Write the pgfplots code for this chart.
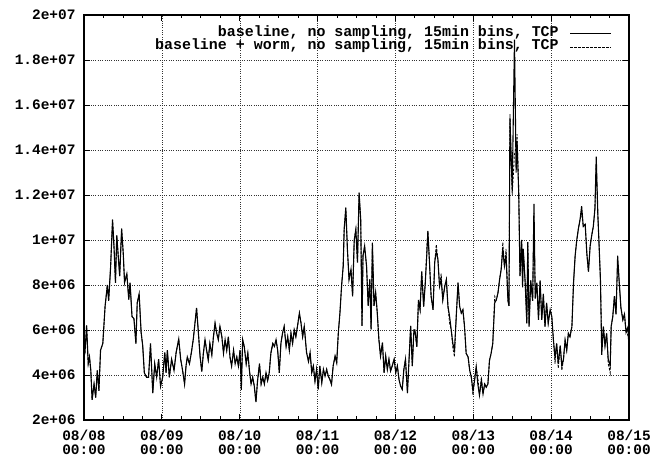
\documentclass[border=0pt]{standalone}
\usepackage{fontspec}
\setmonofont{Liberation Mono}
\usepackage{pgfplots}
\pgfplotsset{compat=1.18}
\usepackage{pgfplotstable}

% TCP volume per 15min bin (millions), hour offset from 08/08 00:00
\pgfplotstableread{
h base worm
0.0 4.8 4.8
0.3 5.0 5.0
0.8 6.2 6.2
1.3 4.5 4.5
1.7 4.8 4.8
2.1 4.2 4.2
2.5 2.9 2.9
3.1 3.6 3.6
3.6 3.0 3.0
4.1 4.2 4.2
4.6 3.3 3.3
5.1 5.1 5.1
5.8 5.4 5.4
6.5 7.05 7.05
7.2 8.0 8.0
7.6 7.3 7.3
8.2 8.8 8.8
8.8 10.9 10.9
9.25 9.7 9.7
9.7 8.1 8.1
10.1 10.2 10.2
10.5 9.4 9.4
11.0 8.4 8.4
11.6 10.5 10.5
12.1 9.4 9.4
12.5 8.1 8.1
13.2 8.5 8.5
13.8 7.35 7.35
14.2 8.1 8.1
14.8 6.6 6.6
15.4 6.5 6.5
16.0 5.4 5.4
16.4 7.2 7.2
17.0 7.6 7.6
17.6 5.9 5.9
18.1 5.3 5.3
18.6 4.1 4.1
19.3 3.9 3.9
19.9 3.9 3.9
20.5 5.4 5.4
21.2 3.2 3.2
21.8 4.5 4.5
22.4 3.9 3.9
23.0 4.7 4.7
23.6 3.5 3.5
24.25 3.9 3.9
24.9 5.0 5.0
25.3 4.1 4.1
25.7 5.1 5.1
26.3 3.9 3.9
27.0 4.7 4.7
27.75 4.2 4.2
28.4 5.0 5.0
29.2 5.6 5.6
29.8 4.7 4.7
30.4 4.2 4.2
31.0 3.6 3.6
31.45 4.4 4.4
31.85 4.8 4.8
32.5 4.5 4.5
33.1 5.0 5.0
33.7 5.6 5.6
34.2 6.3 6.3
34.7 6.98 6.98
35.2 6.0 6.0
35.8 4.8 4.8
36.3 4.15 4.15
36.8 4.97 4.97
37.3 5.57 5.57
37.8 5.1 5.1
38.3 4.67 4.67
38.8 5.4 5.4
39.4 4.9 4.9
39.9 5.7 5.7
40.4 6.3 6.3
40.9 5.86 5.86
41.4 5.57 5.57
41.9 6.16 6.16
42.5 5.7 5.7
43.0 4.97 4.97
43.5 5.57 5.57
44.0 5.1 5.1
44.5 5.7 5.7
45.0 4.8 4.8
45.5 4.4 4.4
46.1 5.1 5.1
46.6 4.5 4.5
47.1 4.8 4.8
47.6 4.4 4.4
48.1 5.1 5.1
48.5 3.34 3.34
48.9 5.57 5.57
49.4 5.27 5.27
50.0 4.5 4.5
50.5 4.97 4.97
51.0 4.2 4.2
51.5 3.6 3.6
52.0 3.9 3.9
52.5 3.5 3.5
53.0 2.8 2.8
53.5 3.75 3.75
54.1 4.5 4.5
54.6 3.6 3.6
55.1 3.9 3.9
55.6 3.6 3.6
56.1 4.1 4.1
56.6 3.75 3.75
57.1 4.1 4.1
57.6 4.97 4.97
58.2 5.4 5.4
58.7 5.27 5.27
59.2 5.57 5.57
59.7 5.1 5.1
60.2 4.1 4.1
60.7 5.4 5.4
61.2 5.86 5.86
61.7 6.16 6.16
62.3 5.27 5.27
62.8 5.7 5.7
63.3 5.1 5.1
63.8 5.86 5.86
64.3 5.4 5.4
64.8 6.0 6.0
65.3 5.7 5.7
65.8 6.16 6.16
66.4 6.75 6.75
66.9 6.3 6.3
67.4 5.7 5.7
67.9 6.16 6.16
68.6 5.0 5.0
69.2 4.6 4.6
69.7 5.0 5.0
70.2 4.1 4.1
70.7 4.4 4.4
71.2 3.73 3.73
71.7 4.25 4.25
72.2 3.36 3.36
72.7 4.4 4.4
73.3 3.66 3.66
73.8 4.25 4.25
74.3 3.95 3.95
74.8 4.25 4.25
75.3 3.95 3.95
75.8 3.8 3.8
76.3 3.58 3.58
76.8 4.4 4.4
77.4 4.84 4.84
77.9 4.55 4.55
78.4 5.88 5.88
78.9 6.77 6.77
79.4 7.96 7.96
79.9 8.84 8.84
80.2 10.47 10.47
80.7 11.44 11.44
81.2 9.58 9.58
81.7 8.25 8.25
82.3 8.7 8.7
82.8 7.5 7.5
83.3 10.0 10.0
83.8 10.47 10.47
84.3 9.0 9.0
84.8 12.1 12.1
85.3 10.9 10.9
85.7 6.18 6.18
86.0 9.3 9.3
86.5 9.73 9.73
87.1 8.84 8.84
87.6 7.07 7.07
88.1 8.25 8.25
88.5 6.03 6.03
88.9 9.88 9.88
89.4 7.07 7.07
89.9 7.66 7.66
90.4 6.77 6.77
90.9 5.58 5.58
91.4 4.84 4.84
92.0 5.44 5.44
92.5 4.1 4.1
93.0 4.84 4.84
93.5 4.25 4.25
94.0 4.7 4.7
94.5 4.18 4.18
95.0 4.4 4.4
95.6 4.7 4.7
96.1 4.1 4.1
96.6 4.4 4.4
97.1 3.8 3.8
97.6 3.5 3.5
98.1 3.36 3.36
98.6 4.25 4.25
99.1 4.7 4.7
99.7 3.2 3.2
100.2 4.7 4.7
100.7 6.18 6.18
101.2 4.4 4.4
101.7 6.0 6.0
102.0 6.0 6.0
102.6 5.25 5.25
103.1 7.34 7.34
103.6 6.9 6.9
104.1 8.6 8.6
104.7 7.04 7.04
105.2 8.1 8.1
105.7 9.43 9.7
106.0 10.4 10.4
106.5 9.0 9.0
107.0 7.5 7.5
107.6 6.9 6.9
108.1 9.0 9.0
108.6 9.5 9.8
109.1 9.13 9.13
109.6 7.94 7.94
110.1 8.24 8.5
110.6 7.34 7.34
111.2 7.94 7.94
111.7 8.24 8.24
112.2 7.04 7.04
112.7 6.6 6.3
113.2 6.0 6.0
113.7 5.4 5.2
114.2 5.1 4.8
114.8 6.75 6.75
115.3 8.1 8.1
115.8 7.04 7.04
116.3 6.75 6.75
116.8 6.9 6.9
117.3 6.15 6.15
117.8 4.96 4.96
118.4 4.8 4.8
118.9 4.2 4.2
119.4 3.9 3.9
119.9 3.3 3.1
120.4 3.76 3.76
120.9 4.36 4.36
121.4 3.6 3.9
121.9 3.1 3.1
122.5 3.76 3.9
123.0 3.16 3.16
123.5 3.6 3.6
124.0 3.46 3.46
124.5 3.6 3.6
125.0 4.66 4.66
125.5 4.96 4.96
126.0 5.4 5.4
126.6 7.2 7.5
127.1 7.34 7.34
127.6 7.64 7.64
128.1 8.24 8.24
128.6 8.7 8.7
129.1 9.6 9.9
129.6 8.84 8.84
130.1 9.28 9.6
130.7 7.3 7.3
131.0 7.07 7.07
131.3 15.4 15.6
132.0 12.2 12.0
132.7 18.9 13.8
133.2 13.0 14.2
133.5 14.4 14.7
134.0 12.1 12.3
134.4 8.4 8.4
134.9 10.0 10.0
135.2 7.9 7.9
135.4 9.6 9.6
136.0 8.1 8.1
136.5 6.3 6.3
136.8 9.9 9.9
137.2 6.15 6.15
137.7 8.2 8.2
138.3 7.3 7.3
138.7 11.6 11.2
139.1 7.4 7.4
139.6 8.1 8.1
140.1 6.45 6.45
140.6 8.2 8.2
141.1 6.45 6.45
141.6 7.6 7.6
142.1 6.15 6.15
142.6 7.2 7.2
143.1 6.3 6.3
143.7 6.9 6.9
144.2 6.6 6.6
144.7 5.55 5.55
145.2 4.8 4.5
145.7 5.4 5.4
146.2 4.5 4.3
146.8 5.3 5.3
147.3 4.4 4.2
147.8 4.7 4.7
148.3 5.55 5.55
148.8 5.1 5.1
149.3 5.85 5.85
149.8 5.7 5.7
150.4 6.15 6.15
150.9 8.1 8.1
151.4 9.3 9.3
151.9 10.0 10.0
152.4 10.5 10.5
152.9 10.9 10.9
153.4 11.5 11.2
153.9 10.6 10.6
154.5 10.7 10.7
155.0 9.4 9.4
155.5 8.6 8.6
156.0 9.7 9.7
156.5 10.2 10.2
157.0 10.6 10.6
157.5 11.4 11.4
157.9 13.7 13.4
158.4 11.1 11.1
158.8 9.7 9.7
159.2 8.2 8.2
159.6 4.9 5.3
160.1 6.15 6.15
160.6 5.3 5.3
161.1 5.85 5.85
161.6 4.7 4.5
162.2 4.4 4.1
162.5 6.15 6.15
163.0 6.6 6.6
163.5 7.5 7.5
164.0 6.7 6.7
164.5 9.3 9.0
165.0 8.1 8.1
165.5 7.0 7.0
166.1 6.45 6.45
166.6 6.7 6.7
167.1 5.9 5.9
167.6 6.1 5.8
168.0 5.4 5.4
}\traffic

\newcommand{\labfont}{\ttfamily\bfseries\fontsize{14.5}{14}\selectfont}

\begin{document}
\begin{tikzpicture}
\useasboundingbox (-84bp,-38bp) rectangle (572bp,420bp);
\begin{axis}[
  scale only axis,
  width=545bp, height=405bp,
  xmin=0, xmax=168, ymin=2, ymax=20,
  xtick={0,24,...,168},
  xticklabels={{08/08\\00:00},{08/09\\00:00},{08/10\\00:00},{08/11\\00:00},{08/12\\00:00},{08/13\\00:00},{08/14\\00:00},{08/15\\00:00}},
  minor x tick num=3,
  ytick={2,4,...,20},
  yticklabels={2e+06,4e+06,6e+06,8e+06,1e+07,1.2e+07,1.4e+07,1.6e+07,1.8e+07,2e+07},
  grid=major,
  grid style={black!80, line width=0.4pt, dash pattern=on 0.7pt off 1.6pt},
  axis line style={line width=1.4pt},
  major tick length=6bp, minor tick length=3.5bp,
  every tick/.style={black, line width=0.8pt},
  tick label style={font=\labfont},
  xticklabel style={align=center, yshift=-6.5bp},
  yticklabel style={xshift=-5bp},
  legend style={draw=none, fill=none, at={(1,1)}, anchor=north east,
    xshift=-14bp, yshift=-10bp,
    font=\ttfamily\bfseries\fontsize{15}{15}\selectfont,
    nodes={inner sep=0pt, text height=9.5bp, text depth=3.8bp},
    row sep=0pt,
    /tikz/every odd column/.append style={column sep=11bp}},
  legend cell align=right,
  legend plot pos=right,
  legend image code/.code={\draw[#1] (0bp,0bp) -- (41bp,0bp);},
]
\addplot[black, line width=1.1pt] table[x=h, y=base] {\traffic};
\addlegendentry{baseline, no sampling, 15min bins, TCP}
\addplot[black, line width=0.8pt, dash pattern=on 2.5pt off 1.5pt] table[x=h, y=worm] {\traffic};
\addlegendentry{baseline + worm, no sampling, 15min bins, TCP}
\end{axis}
\end{tikzpicture}
\end{document}
